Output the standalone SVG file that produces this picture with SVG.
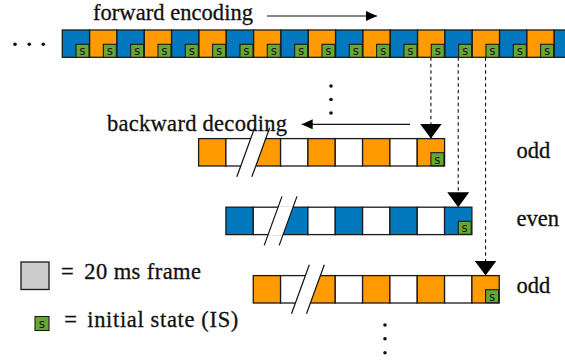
<svg xmlns="http://www.w3.org/2000/svg" width="565" height="360" viewBox="0 0 565 360">
<style>
.b{fill:#0279BF;stroke:#1a1a1a;stroke-width:1.3}
.o{fill:#FF9A00;stroke:#1a1a1a;stroke-width:1.3}
.w{fill:#ffffff;stroke:#1a1a1a;stroke-width:1.3}
.g{fill:#cccccc;stroke:#1a1a1a;stroke-width:1.3}
.s{fill:#66A834;stroke:#1a1a1a;stroke-width:1.1}
.st{font-family:'DejaVu Sans','Liberation Sans',sans-serif;font-size:12px;fill:#1a1a1a;text-anchor:middle}
.t{font-family:'Liberation Serif','Times New Roman',serif;font-size:22.5px;fill:#111;stroke:#111;stroke-width:0.3}
.brk{stroke:#111;stroke-width:1.2;fill:none}
.gap{fill:#ffffff;stroke:none}
.dash{stroke:#111;stroke-width:1.1;stroke-dasharray:3.5,3;fill:none}
.arr{stroke:#111;stroke-width:1.2;fill:none}
.dot{fill:#111}
</style>
<defs>
<marker id="big" viewBox="0 0 15 22" refX="15" refY="11" markerWidth="15" markerHeight="22" orient="auto" markerUnits="userSpaceOnUse">
<path d="M0,0 L15,11 L0,22 Z" fill="#000"/>
</marker>
<marker id="small" viewBox="0 0 11 10" refX="11" refY="5" markerWidth="11" markerHeight="10" orient="auto" markerUnits="userSpaceOnUse">
<path d="M0,0 L11,5 L0,10 Z" fill="#000"/>
</marker>
</defs>

<g id="label-forward">
<text class="t" x="93" y="20" textLength="160">forward encoding</text>
</g>
<g id="label-backward">
<text class="t" x="107" y="130.5" textLength="180">backward decoding</text>
</g>

<g id="dots-left">
<circle class="dot" cx="15" cy="44.3" r="1.8"/>
<circle class="dot" cx="29.3" cy="44.3" r="1.8"/>
<circle class="dot" cx="43.3" cy="44.3" r="1.8"/>
</g>
<g id="dots-mid">
<circle class="dot" cx="331" cy="86" r="1.8"/>
<circle class="dot" cx="331" cy="99.5" r="1.8"/>
<circle class="dot" cx="331" cy="113" r="1.8"/>
</g>
<g id="dots-bottom">
<circle class="dot" cx="385" cy="325" r="1.8"/>
<circle class="dot" cx="385" cy="338.7" r="1.8"/>
<circle class="dot" cx="385" cy="352.7" r="1.8"/>
</g>

<g id="stream">
<rect class="b" x="62.30" y="30" width="27.33" height="27.3"/>
<rect class="o" x="89.63" y="30" width="27.33" height="27.3"/>
<rect class="b" x="116.96" y="30" width="27.33" height="27.3"/>
<rect class="o" x="144.29" y="30" width="27.33" height="27.3"/>
<rect class="b" x="171.62" y="30" width="27.33" height="27.3"/>
<rect class="o" x="198.95" y="30" width="27.33" height="27.3"/>
<rect class="b" x="226.28" y="30" width="27.33" height="27.3"/>
<rect class="o" x="253.61" y="30" width="27.33" height="27.3"/>
<rect class="b" x="280.94" y="30" width="27.33" height="27.3"/>
<rect class="o" x="308.27" y="30" width="27.33" height="27.3"/>
<rect class="b" x="335.60" y="30" width="27.33" height="27.3"/>
<rect class="o" x="362.93" y="30" width="27.33" height="27.3"/>
<rect class="b" x="390.26" y="30" width="27.33" height="27.3"/>
<rect class="o" x="417.59" y="30" width="27.33" height="27.3"/>
<rect class="b" x="444.92" y="30" width="27.33" height="27.3"/>
<rect class="o" x="472.25" y="30" width="27.33" height="27.3"/>
<rect class="b" x="499.58" y="30" width="27.33" height="27.3"/>
<rect class="o" x="526.91" y="30" width="27.33" height="27.3"/>
<rect class="b" x="554.24" y="30" width="27.33" height="27.3"/>
<g>
<rect class="s" x="76.00" y="44.3" width="13" height="13"/><text class="st" x="82.50" y="55.2">s</text>
<rect class="s" x="103.33" y="44.3" width="13" height="13"/><text class="st" x="109.83" y="55.2">s</text>
<rect class="s" x="130.66" y="44.3" width="13" height="13"/><text class="st" x="137.16" y="55.2">s</text>
<rect class="s" x="157.99" y="44.3" width="13" height="13"/><text class="st" x="164.49" y="55.2">s</text>
<rect class="s" x="185.32" y="44.3" width="13" height="13"/><text class="st" x="191.82" y="55.2">s</text>
<rect class="s" x="212.65" y="44.3" width="13" height="13"/><text class="st" x="219.15" y="55.2">s</text>
<rect class="s" x="239.98" y="44.3" width="13" height="13"/><text class="st" x="246.48" y="55.2">s</text>
<rect class="s" x="267.31" y="44.3" width="13" height="13"/><text class="st" x="273.81" y="55.2">s</text>
<rect class="s" x="294.64" y="44.3" width="13" height="13"/><text class="st" x="301.14" y="55.2">s</text>
<rect class="s" x="321.97" y="44.3" width="13" height="13"/><text class="st" x="328.47" y="55.2">s</text>
<rect class="s" x="349.30" y="44.3" width="13" height="13"/><text class="st" x="355.80" y="55.2">s</text>
<rect class="s" x="376.63" y="44.3" width="13" height="13"/><text class="st" x="383.13" y="55.2">s</text>
<rect class="s" x="403.96" y="44.3" width="13" height="13"/><text class="st" x="410.46" y="55.2">s</text>
<rect class="s" x="431.29" y="44.3" width="13" height="13"/><text class="st" x="437.79" y="55.2">s</text>
<rect class="s" x="458.62" y="44.3" width="13" height="13"/><text class="st" x="465.12" y="55.2">s</text>
<rect class="s" x="485.95" y="44.3" width="13" height="13"/><text class="st" x="492.45" y="55.2">s</text>
<rect class="s" x="513.28" y="44.3" width="13" height="13"/><text class="st" x="519.78" y="55.2">s</text>
<rect class="s" x="540.61" y="44.3" width="13" height="13"/><text class="st" x="547.11" y="55.2">s</text>
</g>
</g>

<g id="row-odd-1" transform="translate(198.6,138.6)">
<rect class="o" x="0" y="0" width="27.33" height="27.4"/>
<rect class="w" x="27.33" y="0" width="27.33" height="27.4"/>
<rect class="o" x="54.66" y="0" width="27.33" height="27.4"/>
<rect class="w" x="81.99" y="0" width="27.33" height="27.4"/>
<rect class="o" x="109.32" y="0" width="27.33" height="27.4"/>
<rect class="w" x="136.65" y="0" width="27.33" height="27.4"/>
<rect class="o" x="163.98" y="0" width="27.33" height="27.4"/>
<rect class="w" x="191.31" y="0" width="27.33" height="27.4"/>
<rect class="o" x="218.64" y="0" width="27.33" height="27.4"/>
<rect class="s" x="232.31" y="14.1" width="13" height="13"/><text class="st" x="238.81" y="25">s</text>
<polygon class="gap" points="52.51,-1 67.51,-1 56.81,28.4 41.81,28.4"/>
<line class="brk" x1="38.26" y1="38.2" x2="56.06" y2="-10.8"/>
<line class="brk" x1="53.26" y1="38.2" x2="71.06" y2="-10.8"/>
</g>

<g id="row-even" transform="translate(225.93,207.2)">
<rect class="b" x="0" y="0" width="27.33" height="27.4"/>
<rect class="w" x="27.33" y="0" width="27.33" height="27.4"/>
<rect class="b" x="54.66" y="0" width="27.33" height="27.4"/>
<rect class="w" x="81.99" y="0" width="27.33" height="27.4"/>
<rect class="b" x="109.32" y="0" width="27.33" height="27.4"/>
<rect class="w" x="136.65" y="0" width="27.33" height="27.4"/>
<rect class="b" x="163.98" y="0" width="27.33" height="27.4"/>
<rect class="w" x="191.31" y="0" width="27.33" height="27.4"/>
<rect class="b" x="218.64" y="0" width="27.33" height="27.4"/>
<rect class="s" x="232.31" y="14.1" width="13" height="13"/><text class="st" x="238.81" y="25">s</text>
<polygon class="gap" points="52.51,-1 67.51,-1 56.81,28.4 41.81,28.4"/>
<line class="brk" x1="38.26" y1="38.2" x2="56.06" y2="-10.8"/>
<line class="brk" x1="53.26" y1="38.2" x2="71.06" y2="-10.8"/>
</g>

<g id="row-odd-2" transform="translate(253.26,275.6)">
<rect class="o" x="0" y="0" width="27.33" height="27.4"/>
<rect class="w" x="27.33" y="0" width="27.33" height="27.4"/>
<rect class="o" x="54.66" y="0" width="27.33" height="27.4"/>
<rect class="w" x="81.99" y="0" width="27.33" height="27.4"/>
<rect class="o" x="109.32" y="0" width="27.33" height="27.4"/>
<rect class="w" x="136.65" y="0" width="27.33" height="27.4"/>
<rect class="o" x="163.98" y="0" width="27.33" height="27.4"/>
<rect class="w" x="191.31" y="0" width="27.33" height="27.4"/>
<rect class="o" x="218.64" y="0" width="27.33" height="27.4"/>
<rect class="s" x="232.31" y="14.1" width="13" height="13"/><text class="st" x="238.81" y="25">s</text>
<polygon class="gap" points="52.51,-1 67.51,-1 56.81,28.4 41.81,28.4"/>
<line class="brk" x1="38.26" y1="38.2" x2="56.06" y2="-10.8"/>
<line class="brk" x1="53.26" y1="38.2" x2="71.06" y2="-10.8"/>
</g>

<g id="label-odd-1"><text class="t" x="516.5" y="157.5">odd</text></g>
<g id="label-even"><text class="t" x="516.5" y="226">even</text></g>
<g id="label-odd-2"><text class="t" x="516.5" y="293">odd</text></g>

<g id="legend-frame">
<rect class="g" x="21" y="262" width="28" height="27.5"/>
<text class="t" x="61" y="278.5">=</text>
<text class="t" x="84.3" y="278.5" textLength="116.7">20 ms frame</text>
</g>
<g id="legend-is">
<rect class="s" x="35" y="316.5" width="14" height="14"/><text class="st" x="42" y="328">s</text>
<text class="t" x="64.3" y="327">=</text>
<text class="t" x="87.3" y="327" textLength="151">initial state (IS)</text>
</g>

<g id="connectors">
<line class="arr" x1="267" y1="16" x2="377" y2="16" marker-end="url(#small)"/>
<line class="arr" x1="410" y1="124.3" x2="301.7" y2="124.3" marker-end="url(#small)"/>
<line class="dash" x1="430.9" y1="57.3" x2="430.9" y2="138.6" marker-end="url(#big)"/>
<line class="dash" x1="458.24" y1="57.3" x2="458.24" y2="207.2" marker-end="url(#big)"/>
<line class="dash" x1="485.57" y1="57.3" x2="485.57" y2="275.6" marker-end="url(#big)"/>
</g>
</svg>
